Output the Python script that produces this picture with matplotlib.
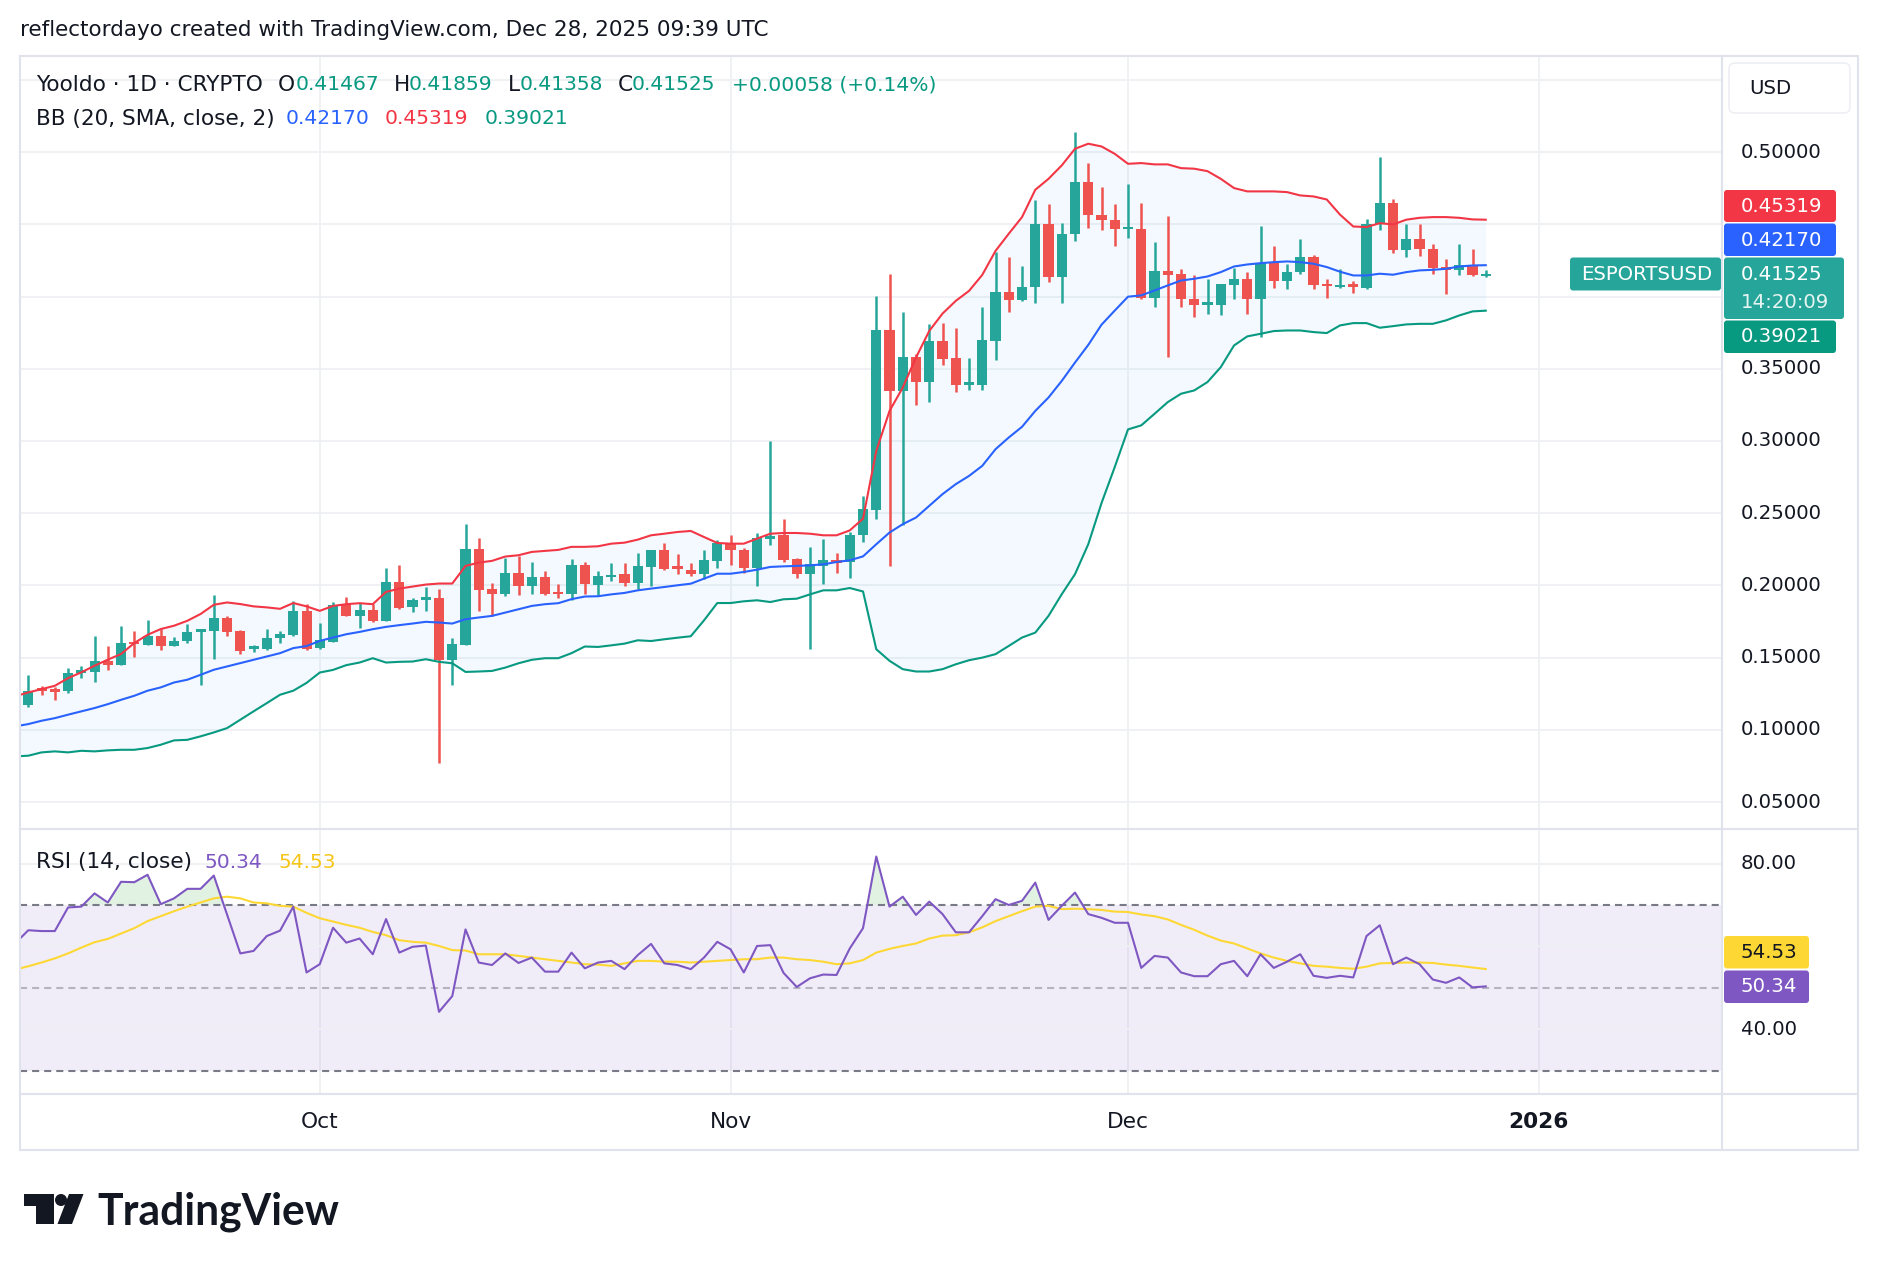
import numpy as np
import pandas as pd
import matplotlib
matplotlib.use("Agg")
import matplotlib.pyplot as plt
import matplotlib.dates as mdates
import matplotlib.transforms as mtransforms
from matplotlib.patches import Rectangle, FancyBboxPatch, Circle, Polygon

plt.rcParams['font.family'] = ['DejaVu Sans']

# ---------------- data ----------------
dates = pd.date_range("2025-09-08", "2025-12-28", freq="D")

opens = [0.1135, 0.1175, 0.1285, 0.1277, 0.1267, 0.1400, 0.1399, 0.1479, 0.1447, 0.1606, 0.1590, 0.1652,
         0.1578, 0.1613, 0.1685, 0.1682, 0.1774, 0.1682, 0.1565, 0.1560, 0.1636, 0.1659, 0.1825,
         0.1565, 0.1611, 0.1863, 0.1789, 0.1828, 0.1751, 0.2027, 0.1851, 0.1905, 0.1911, 0.1485, 0.1588,
         0.2251, 0.1973, 0.1939, 0.2085, 0.1997, 0.2055, 0.1950, 0.1939, 0.2140, 0.2001, 0.2063, 0.2077,
         0.2017, 0.2128, 0.2243, 0.2126, 0.2104, 0.2077, 0.2169,
         0.2296, 0.2248, 0.2121, 0.2331, 0.2347, 0.2181, 0.2077, 0.2135, 0.2167, 0.2162, 0.2347, 0.2525,
         0.3769, 0.3347, 0.3582, 0.3405, 0.3693, 0.3573, 0.3393, 0.3388, 0.3693, 0.4032, 0.3977, 0.4065,
         0.4499, 0.4135, 0.4430, 0.4792, 0.4566, 0.4532,
         0.4470, 0.4469, 0.3989, 0.4176, 0.4153, 0.3985, 0.3948, 0.3943, 0.4081, 0.4123, 0.3985, 0.4231,
         0.4107, 0.4169, 0.4273, 0.4083, 0.4068, 0.4080, 0.4058, 0.4504, 0.4647, 0.4324, 0.4400, 0.4331,
         0.4200, 0.4181, 0.4220, 0.41467]
highs = [0.1200, 0.1383, 0.1302, 0.1300, 0.1429, 0.1445, 0.1652, 0.1583, 0.1721, 0.1682, 0.1763, 0.1698,
         0.1643, 0.1735, 0.1698, 0.1935, 0.1790, 0.1694, 0.1590, 0.1698, 0.1687, 0.1890, 0.1871,
         0.1743, 0.1888, 0.1923, 0.1877, 0.1870, 0.2119, 0.2140, 0.1911, 0.1992, 0.1974, 0.1639, 0.2424,
         0.2325, 0.2015, 0.2193, 0.2205, 0.2163, 0.2101, 0.2008, 0.2186, 0.2163, 0.2098, 0.2158, 0.2158,
         0.2227, 0.2248, 0.2296, 0.2220, 0.2158, 0.2243, 0.2312,
         0.2347, 0.2259, 0.2365, 0.3000, 0.2458, 0.2190, 0.2266, 0.2319, 0.2227, 0.2370, 0.2617, 0.4005,
         0.4155, 0.3894, 0.3601, 0.3813, 0.3820, 0.3785, 0.3573, 0.3928, 0.4305, 0.4275, 0.4212, 0.4665,
         0.4642, 0.4511, 0.5138, 0.4924, 0.4758, 0.4638,
         0.4776, 0.4649, 0.4381, 0.4561, 0.4188, 0.4146, 0.4123, 0.4088, 0.4197, 0.4169, 0.4488, 0.4347,
         0.4222, 0.4395, 0.4285, 0.4123, 0.4192, 0.4108, 0.4534, 0.4965, 0.4677, 0.4500, 0.4504, 0.4365,
         0.4257, 0.4365, 0.4331, 0.41859]
lows = [0.1120, 0.1159, 0.1244, 0.1205, 0.1256, 0.1360, 0.1330, 0.1417, 0.1447, 0.1502, 0.1590, 0.1555,
        0.1578, 0.1601, 0.1309, 0.1493, 0.1652, 0.1528, 0.1537, 0.1551, 0.1601, 0.1652, 0.1555,
        0.1560, 0.1605, 0.1789, 0.1705, 0.1748, 0.1751, 0.1835, 0.1817, 0.1824, 0.0771, 0.1311, 0.1588,
        0.1824, 0.1785, 0.1928, 0.1935, 0.1939, 0.1935, 0.1912, 0.1897, 0.1939, 0.1931, 0.2031, 0.1996,
        0.1973, 0.1996, 0.2104, 0.2077, 0.2065, 0.2047, 0.2121,
        0.2139, 0.2086, 0.1996, 0.2278, 0.2162, 0.2051, 0.1558, 0.2008, 0.2086, 0.2051, 0.2301, 0.2463,
        0.2131, 0.2419, 0.3250, 0.3273, 0.3527, 0.3342, 0.3351, 0.3351, 0.3561, 0.3894, 0.3970, 0.3958,
        0.4100, 0.3955, 0.4384, 0.4474, 0.4458, 0.4347,
        0.4406, 0.3985, 0.3927, 0.3580, 0.3927, 0.3858, 0.3881, 0.3874, 0.3985, 0.3881, 0.3719, 0.4061,
        0.4049, 0.4153, 0.4049, 0.3989, 0.4061, 0.4024, 0.4049, 0.4458, 0.4301, 0.4273, 0.4280, 0.4158,
        0.4015, 0.4147, 0.4142, 0.41358]
closes = [0.1186, 0.1272, 0.1275, 0.1270, 0.1394, 0.1410, 0.1479, 0.1447, 0.1601, 0.1598, 0.1652, 0.1578,
          0.1618, 0.1680, 0.1690, 0.1774, 0.1675, 0.1548, 0.1575, 0.1636, 0.1666, 0.1825, 0.1560,
          0.1621, 0.1863, 0.1789, 0.1828, 0.1751, 0.2027, 0.1847, 0.1898, 0.1911, 0.1485, 0.1593, 0.2251,
          0.1969, 0.1939, 0.2085, 0.1997, 0.2055, 0.1939, 0.1943, 0.2140, 0.2008, 0.2063, 0.2070, 0.2017,
          0.2132, 0.2243, 0.2111, 0.2120, 0.2077, 0.2174, 0.2296,
          0.2248, 0.2121, 0.2331, 0.2336, 0.2174, 0.2077, 0.2146, 0.2174, 0.2162, 0.2351, 0.2532, 0.3769,
          0.3347, 0.3582, 0.3405, 0.3693, 0.3571, 0.3388, 0.3400, 0.3700, 0.4032, 0.3977, 0.4067, 0.4499,
          0.4135, 0.4430, 0.4792, 0.4562, 0.4530, 0.4467,
          0.4477, 0.3989, 0.4174, 0.4150, 0.3980, 0.3943, 0.3955, 0.4084, 0.4123, 0.3985, 0.4231, 0.4107,
          0.4169, 0.4273, 0.4081, 0.4076, 0.4080, 0.4072, 0.4504, 0.4647, 0.4324, 0.4400, 0.4331, 0.4199,
          0.4192, 0.4220, 0.41467, 0.41525]

bb_upper = [0.1232,
            0.1259, 0.1282, 0.1305, 0.1358, 0.1398, 0.1444, 0.1486, 0.1525, 0.1601, 0.1658, 0.1698, 0.1721,
            0.1755, 0.1802, 0.1866, 0.1882, 0.1871, 0.1855, 0.1848, 0.1838, 0.1878, 0.1855,
            0.1824, 0.1858, 0.1870, 0.1877, 0.1870, 0.1955, 0.1978, 0.1992, 0.2006, 0.2013, 0.2013, 0.2135,
            0.2158, 0.2170, 0.2200, 0.2209, 0.2232, 0.2239, 0.2246, 0.2267, 0.2267,
            0.2271, 0.2289, 0.2296, 0.2317, 0.2347, 0.2358, 0.2370, 0.2377, 0.2335, 0.2294, 0.2289, 0.2289,
            0.2324, 0.2358, 0.2363, 0.2363, 0.2358, 0.2347, 0.2347, 0.2381, 0.2462,
            0.2931, 0.3208, 0.3370, 0.3578, 0.3762, 0.3882, 0.3970, 0.4039, 0.4150, 0.4316,
            0.4435, 0.4550, 0.4739, 0.4815, 0.4908, 0.5023, 0.5058, 0.5039, 0.4988, 0.4919,
            0.4924, 0.4915, 0.4915, 0.4889, 0.4885, 0.4868, 0.4815, 0.4751, 0.4728, 0.4728, 0.4728, 0.4723,
            0.4700, 0.4693, 0.4672, 0.4567,
            0.4485, 0.4481, 0.4508, 0.4499, 0.4532, 0.4545, 0.4550, 0.4550, 0.4545, 0.4534, 0.45319]
bb_basis = [0.1024,
            0.1040, 0.1063, 0.1081, 0.1105, 0.1128, 0.1151, 0.1178, 0.1208, 0.1236, 0.1271, 0.1294, 0.1328,
            0.1347, 0.1381, 0.1416, 0.1439, 0.1462, 0.1485, 0.1508, 0.1531, 0.1566, 0.1580,
            0.1616, 0.1639, 0.1662, 0.1678, 0.1697, 0.1713, 0.1725, 0.1736, 0.1748, 0.1743, 0.1736, 0.1766,
            0.1778, 0.1789, 0.1812, 0.1835, 0.1858, 0.1870, 0.1877, 0.1905, 0.1923,
            0.1925, 0.1938, 0.1948, 0.1966, 0.1978, 0.1989, 0.2001, 0.2012, 0.2047, 0.2081, 0.2081, 0.2093,
            0.2109, 0.2128, 0.2132, 0.2135, 0.2139, 0.2146, 0.2162, 0.2174, 0.2201,
            0.2285, 0.2366, 0.2424, 0.2470, 0.2551, 0.2632, 0.2701, 0.2758, 0.2828, 0.2943,
            0.3024, 0.3098, 0.3208, 0.3301, 0.3416, 0.3543, 0.3665, 0.3805, 0.3903, 0.3999,
            0.4008, 0.4042, 0.4077, 0.4111, 0.4123, 0.4139, 0.4169, 0.4208, 0.4222, 0.4231, 0.4238, 0.4243,
            0.4238, 0.4227, 0.4204, 0.4172,
            0.4146, 0.4146, 0.4158, 0.4151, 0.4169, 0.4181, 0.4185, 0.4192, 0.4208, 0.4215, 0.42170]
bb_lower = [0.0816,
            0.0821, 0.0844, 0.0851, 0.0844, 0.0855, 0.0851, 0.0858, 0.0862, 0.0862, 0.0874, 0.0897, 0.0927,
            0.0931, 0.0955, 0.0982, 0.1012, 0.1070, 0.1128, 0.1185, 0.1243, 0.1271, 0.1325,
            0.1397, 0.1415, 0.1448, 0.1466, 0.1496, 0.1466, 0.1471, 0.1473, 0.1489, 0.1471, 0.1461, 0.1401,
            0.1404, 0.1408, 0.1431, 0.1461, 0.1485, 0.1496, 0.1496, 0.1531, 0.1577,
            0.1574, 0.1585, 0.1597, 0.1620, 0.1615, 0.1627, 0.1638, 0.1648, 0.1758, 0.1878, 0.1878, 0.1890,
            0.1897, 0.1885, 0.1904, 0.1908, 0.1938, 0.1966, 0.1966, 0.1982, 0.1958,
            0.1558, 0.1478, 0.1420, 0.1404, 0.1404, 0.1420, 0.1454, 0.1482, 0.1500, 0.1524,
            0.1581, 0.1639, 0.1673, 0.1789, 0.1939, 0.2078, 0.2285, 0.2570, 0.2820, 0.3080,
            0.3108, 0.3188, 0.3269, 0.3327, 0.3350, 0.3408, 0.3511, 0.3661, 0.3724, 0.3742, 0.3761, 0.3765,
            0.3765, 0.3754, 0.3747, 0.3800,
            0.3816, 0.3816, 0.3784, 0.3795, 0.3807, 0.3811, 0.3811, 0.3835, 0.3869, 0.3897, 0.39021]

rsi = [60.7,
       63.9, 63.7, 63.7, 69.4, 69.6, 72.8, 70.6, 75.6, 75.5, 77.3,
       70.2, 71.6, 73.9, 73.9, 77.1, 67.7, 58.3, 58.9, 62.5, 63.8,
       69.6, 53.7, 55.7, 64.5, 60.9, 61.9, 58.1, 66.6, 58.5, 59.9,
       60.2, 44.2, 48.0, 64.1, 56.1, 55.5, 58.3, 56.0, 57.3, 53.9,
       53.9, 58.5, 54.7, 56.1, 56.5, 54.5, 57.9, 60.6, 55.9, 55.5,
       54.5, 57.3, 61.1, 59.3, 53.7, 60.1, 60.3,
       53.6, 50.2, 52.3, 53.2, 53.1, 59.5, 64.4, 81.7, 69.6, 72.0,
       67.6, 70.8, 67.8, 63.4, 63.4, 67.3, 71.4, 70.0, 71.0, 75.4,
       66.4, 69.8, 73.0, 67.8, 66.9, 65.7, 65.7, 54.8, 57.7, 57.3,
       53.7, 52.8, 52.8, 55.7, 56.5, 52.8, 58.1, 54.8, 56.3, 58.1,
       52.9, 52.4, 52.9, 52.5, 62.5, 65.1, 55.7, 57.3, 55.7, 52.0,
       51.2, 52.5, 50.1, 50.34]
rsi_ma = [54.4,
          55.2, 56.1, 57.1, 58.3, 59.7, 61.0, 61.8, 63.1, 64.4, 66.1,
          67.3, 68.5, 69.6, 70.6, 71.6, 72.0, 71.6, 70.6, 70.4, 69.8,
          69.6, 68.1, 66.8, 66.0, 65.2, 64.5, 63.5, 62.7, 61.5, 61.1,
          60.9, 60.1, 59.1, 59.0, 58.1, 58.1, 58.1, 57.7, 57.3, 56.9,
          56.5, 56.1, 55.7, 55.6, 55.3, 55.9, 56.5, 56.5, 56.3, 56.3,
          56.1, 56.3, 56.5, 56.7, 56.9, 56.9, 57.3,
          57.3, 56.9, 56.7, 56.3, 55.7, 55.9, 56.7, 58.5, 59.4, 60.1,
          60.7, 61.9, 62.6, 62.7, 63.4, 64.6, 66.1, 67.3, 68.5, 69.6,
          69.8, 69.0, 69.1, 69.0, 68.8, 68.4, 68.3, 67.7, 67.3, 66.5,
          65.2, 64.0, 62.6, 61.4, 60.7, 59.5, 58.3, 57.3, 56.5, 55.9,
          55.3, 55.1, 54.8, 54.6, 55.1, 55.9, 56.0, 56.1, 56.1, 56.0,
          55.6, 55.3, 54.9, 54.53]

price_grid = [0.05, 0.10, 0.15, 0.20, 0.25, 0.30, 0.35, 0.40, 0.45, 0.50, 0.55]
price_labels = [0.05, 0.10, 0.15, 0.20, 0.25, 0.30, 0.35, 0.50]   # 0.40/0.45 hidden by badges
rsi_grid = [40, 60, 80]
rsi_labels = [40, 80]
month_ticks = ["2025-10-01", "2025-11-01", "2025-12-01", "2026-01-01"]
month_labels = ["Oct", "Nov", "Dec", "2026"]
symbol = "Yooldo · 1D · CRYPTO"
ticker = "ESPORTSUSD"
countdown = "14:20:09"
header = "reflectordayo created with TradingView.com, Dec 28, 2025 09:39 UTC"

# ---------------- style ----------------
GREEN = '#26a69a'
RED = '#ef5350'
TXT = '#131722'
GRID = '#eef0f4'
BORDER = '#e0e3eb'
C_UP = '#f23645'
C_MID = '#2962ff'
C_LOW = '#089981'
C_RSI = '#7e57c2'
C_MA = '#fdd835'

W, H = 1878, 1270
fig = plt.figure(figsize=(W / 100, H / 100), dpi=100, facecolor='white')
rend = fig.canvas.get_renderer()


def fr(x0, y0, x1, y1):
    return [x0 / W, 1 - y1 / H, (x1 - x0) / W, (y1 - y0) / H]


def size_for(s, width, **kw):
    t = fig.text(0, 0, s, fontsize=20, **kw)
    w = t.get_window_extent(rend).width
    t.remove()
    return 20 * width / w


ax = fig.add_axes(fr(20, 56, 1722, 829))
axr = fig.add_axes(fr(20, 829, 1722, 1094))
ov = fig.add_axes([0, 0, 1, 1], zorder=10)
ov.set_xlim(0, W)
ov.set_ylim(H, 0)
ov.axis('off')
ov.patch.set_alpha(0)

xd = mdates.date2num(dates)
x0 = xd[0]
for a in (ax, axr):
    a.set_xlim(x0 + 0.374, x0 + 128.83)
    a.set_facecolor('white')
    for s in a.spines.values():
        s.set_visible(False)
    a.set_xticks([])
    a.set_yticks([])
ax.set_ylim(0.03136, 0.56653)
axr.set_ylim(24.35, 88.35)

mx = mdates.date2num(pd.to_datetime(month_ticks))
for a in (ax, axr):
    for m in mx:
        a.axvline(m, color=GRID, lw=1.3, zorder=0)
for p in price_grid:
    ax.axhline(p, color=GRID, lw=1.3, zorder=0)
for v in rsi_grid:
    axr.axhline(v, color=GRID, lw=1.3, zorder=0.6)

# Bollinger bands
ax.fill_between(xd, bb_lower, bb_upper, color='#2196f3', alpha=0.05, lw=0, zorder=1)

# candles
o = np.array(opens); h = np.array(highs); l = np.array(lows); c = np.array(closes)
up = c >= o
cols = np.where(up, GREEN, RED)
ax.vlines(xd, l, h, colors=cols, lw=1.8, zorder=3)
mind = 0.0018
body = np.abs(c - o)
bot = np.where(body < mind, (o + c) / 2 - mind / 2, np.minimum(o, c))
ax.bar(xd, np.maximum(body, mind), bottom=bot, width=0.76, color=cols, lw=0, zorder=3)

ax.plot(xd, bb_upper, color=C_UP, lw=1.5, zorder=4)
ax.plot(xd, bb_basis, color=C_MID, lw=1.5, zorder=4)
ax.plot(xd, bb_lower, color=C_LOW, lw=1.5, zorder=4)

# RSI
r = np.array(rsi)
axr.axhspan(30, 70, color=C_RSI, alpha=0.1, lw=0, zorder=0.5)
axr.fill_between(xd, r, 70, where=r > 70, interpolate=True, color='#4caf50', alpha=0.16, lw=0, zorder=1)
axr.axhline(70, color='#787b86', lw=1.5, ls=(0, (3.4, 2.4)), zorder=1.5)
axr.axhline(30, color='#787b86', lw=1.5, ls=(0, (3.4, 2.4)), zorder=1.5)
axr.axhline(50, color='#787b86', lw=1.5, ls=(0, (3.4, 2.4)), alpha=0.5, zorder=1.5)
axr.plot(xd, rsi_ma, color=C_MA, lw=1.5, zorder=2)
axr.plot(xd, rsi, color=C_RSI, lw=1.5, zorder=3)

# ---------------- chrome ----------------
fs_head = size_for(header, 749)
fs_leg = size_for(symbol, 226)
fs_num = size_for("0.39021", 84)
fs_ax = size_for("0.50000", 82)

ov.add_patch(Rectangle((20, 56), 1838, 1094, fill=False, ec=BORDER, lw=1.5, zorder=2))
ov.plot([1722, 1722], [56, 1150], color=BORDER, lw=1.5, zorder=2)
ov.plot([20, 1858], [829, 829], color=BORDER, lw=1.5, zorder=2)
ov.plot([20, 1858], [1094, 1094], color=BORDER, lw=1.5, zorder=2)

ov.text(20, 30, header, fontsize=fs_head, color=TXT, va='center', ha='left')

# legend line 1
fmt = lambda v: f"{v:.5f}"
chg = closes[-1] - closes[-2]
pct = chg / closes[-2] * 100
teal = C_LOW
segs = [(symbol, 36, TXT, fs_leg), ("O", 277.5, TXT, fs_leg), (fmt(opens[-1]), 296, teal, fs_num),
        ("H", 394, TXT, fs_leg), (fmt(highs[-1]), 409, teal, fs_num),
        ("L", 508, TXT, fs_leg), (fmt(lows[-1]), 520, teal, fs_num),
        ("C", 618, TXT, fs_leg), (fmt(closes[-1]), 632, teal, fs_num),
        (f"+{chg:.5f} (+{pct:.2f}%)", 732, teal, fs_num)]
for s, x, col, fs in segs:
    ov.text(x, 85, s, fontsize=fs, color=col, va='center', ha='left')
segs2 = [("BB (20, SMA, close, 2)", 36, TXT, fs_leg), (fmt(bb_basis[-1]), 286, C_MID, fs_num),
         (fmt(bb_upper[-1]), 385, C_UP, fs_num), (fmt(bb_lower[-1]), 485, C_LOW, fs_num)]
for s, x, col, fs in segs2:
    ov.text(x, 118.5, s, fontsize=fs, color=col, va='center', ha='left')
segs3 = [("RSI (14, close)", 36, TXT, fs_leg), (f"{rsi[-1]:.2f}", 204, C_RSI, fs_num),
         (f"{rsi_ma[-1]:.2f}", 279, '#f5c518', fs_num)]
for s, x, col, fs in segs3:
    ov.text(x, 862, s, fontsize=fs, color=col, va='center', ha='left')

# price axis labels
trp = mtransforms.blended_transform_factory(ov.transData, ax.transData)
for p in price_labels:
    ov.text(1741, p, f"{p:.5f}", transform=trp, fontsize=fs_ax, color=TXT, va='center', ha='left', zorder=3)
trr = mtransforms.blended_transform_factory(ov.transData, axr.transData)
for v in rsi_labels:
    ov.text(1741, v, f"{v:.2f}", transform=trr, fontsize=fs_ax, color=TXT, va='center', ha='left', zorder=3)

# time axis labels
trx = mtransforms.blended_transform_factory(ax.transData, ov.transData)
for m, lab in zip(mx, month_labels):
    ov.text(m, 1122, lab, transform=trx, fontsize=fs_leg, color=TXT, va='center', ha='center',
            fontweight='bold' if lab == "2026" else 'normal')

# USD box
ov.add_patch(FancyBboxPatch((1729, 63), 121, 50, boxstyle='round,pad=0,rounding_size=6',
                            fc='white', ec='#edeff3', lw=1.2, zorder=4))
ov.text(1749, 88, "USD", fontsize=fs_ax, color=TXT, va='center', ha='left', zorder=5)


def badge(x0, y0, x1, y1, col):
    ov.add_patch(FancyBboxPatch((x0, y0), x1 - x0, y1 - y0, boxstyle='round,pad=0,rounding_size=3',
                                fc=col, ec='none', zorder=5))


badge(1724, 190, 1836, 222, C_UP)
ov.text(1741, 206, fmt(bb_upper[-1]), fontsize=fs_ax, color='white', va='center', ha='left', zorder=6)
badge(1724, 223.5, 1836, 256, C_MID)
ov.text(1741, 240, fmt(bb_basis[-1]), fontsize=fs_ax, color='white', va='center', ha='left', zorder=6)
badge(1724, 257.5, 1844, 319, GREEN)
ov.text(1741, 274, fmt(closes[-1]), fontsize=fs_ax, color='white', va='center', ha='left', zorder=6)
ov.text(1741, 302, countdown, fontsize=fs_ax, color='#e6f4f2', va='center', ha='left', zorder=6)
badge(1724, 320.5, 1836, 353, C_LOW)
ov.text(1741, 336.5, fmt(bb_lower[-1]), fontsize=fs_ax, color='white', va='center', ha='left', zorder=6)
badge(1570, 257.5, 1721, 290.5, GREEN)
ov.text(1581, 274, ticker, fontsize=fs_ax, color='white', va='center', ha='left', zorder=6)

badge(1724, 936, 1809, 968.5, C_MA)
ov.text(1741, 952, f"{rsi_ma[-1]:.2f}", fontsize=fs_ax, color=TXT, va='center', ha='left', zorder=6)
badge(1724, 970.5, 1809, 1003, C_RSI)
ov.text(1741, 987, f"{rsi[-1]:.2f}", fontsize=fs_ax, color='white', va='center', ha='left', zorder=6)

# TradingView logo
LOGO = '#131722'
ov.add_patch(Rectangle((24, 1194), 29.5, 12, fc=LOGO, ec='none'))
ov.add_patch(Rectangle((36, 1194), 17.5, 30, fc=LOGO, ec='none'))
ov.add_patch(Circle((61, 1200), 6, fc=LOGO, ec='none'))
ov.add_patch(Polygon([(69, 1194), (83.5, 1194), (72, 1224), (57.5, 1224)], closed=True, fc=LOGO, ec='none'))
fs_logo = size_for("TradingView", 242, family='Lato', fontweight='bold')
ov.text(97, 1224, "TradingView", fontsize=fs_logo, family='Lato', fontweight='bold', color=LOGO,
        va='baseline', ha='left')

fig.savefig("out.png", dpi=100, facecolor='white')
